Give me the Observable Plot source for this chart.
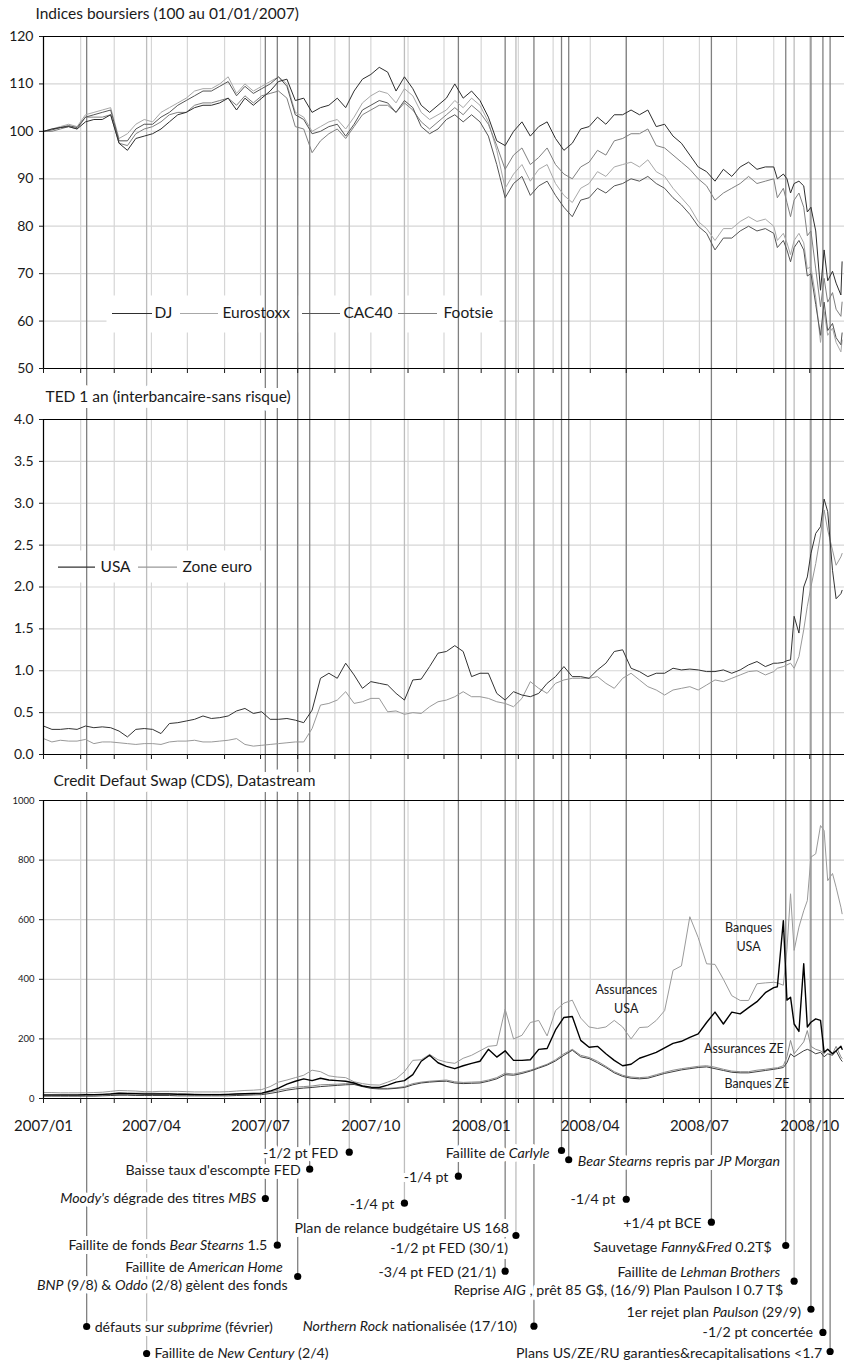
<!DOCTYPE html>
<html><head><meta charset="utf-8">
<script src="https://cdn.jsdelivr.net/npm/d3@7"></script>
<script src="https://cdn.jsdelivr.net/npm/@observablehq/plot@0.6"></script>
<style>
body{margin:0;background:#fff;}
#chart{width:844px;position:relative;}
#chart svg{display:block;}
</style></head><body><div id="chart"></div>
<script>
// ---------- DATA ----------
// weekly observations from 2007-01-01 (88 weeks), then denser observations during the autumn 2008 crash
const lateDates = ["2008-09-04","2008-09-09","2008-09-12","2008-09-15","2008-09-18","2008-09-22","2008-09-26","2008-09-29","2008-10-02","2008-10-06","2008-10-10","2008-10-13","2008-10-16","2008-10-20","2008-10-23","2008-10-27","2008-10-28"];
const dates = [];
for (let i = 0; i < 88; i++) dates.push(new Date(Date.UTC(2007, 0, 1 + 7 * i)));
lateDates.forEach(s => dates.push(new Date(s)));

// Indices boursiers (100 au 01/01/2007)
const dj = [100,100.5,100.8,101,100.5,102,102.5,102.5,103.5,97.5,96,98.5,99,99.5,100.5,102,103.5,104,105,105.5,105.5,106,107,104.5,107,105.5,107,108.5,110.5,111,106.5,107,104,105,105.5,107,105,108.5,111,112,113.5,112.5,108.5,111.5,109,105.5,104,105.5,107,110,107,108.5,106.5,103,98,97,100,102,99,101,102,98.5,96,97.5,100.5,101,103,101.5,103.5,103.5,104.5,103.5,104.5,101,101.5,99,97.5,95,92.5,91.5,89.5,92,90.5,92.5,93.5,92,92.5,92.5,
  90,91,90,87,89,89.5,88.5,83,84,79,66.5,75,68.5,70.5,68,65.5,72.5];
const eurostoxx = [100,100.5,101,101.5,101,103.5,104,104.5,105,98.5,99.5,101.5,102.5,102,104,105,106,107,108.5,109,109,110,111.5,108,110,108.5,109.5,110.5,111.5,110,104,103,100,101,102,102.5,100.5,103,106,107.5,108.5,108,106,109,107.5,104,102.5,103.5,104.5,106.5,105,107,105.5,102,96,88,91,93,89.5,92,93,89,86.5,85,88,89,91.5,90.5,92.5,93,93.5,92.5,94,91.5,90.5,88,86,84,81,79.5,77,79.5,79.5,81,82,81,81.5,80,
  77,78.5,76.5,74,77,78.5,76.5,71,71.5,65,55.5,62,57,58.5,55.5,53.5,56];
const cac40 = [100,100.3,100.8,101.2,100.8,103,103.5,104,104.5,98,98,100.5,101.5,101.5,103,104,105.5,106.5,107.5,108.5,108.5,109.5,110.5,107.5,109.5,108,109,110,111.5,109.5,103.5,102.5,99.5,100,101,101.5,99,101.5,104.5,105.5,106.5,106,104,106.5,105,101,99.5,100.5,102.5,103.5,102,103.5,102,99,93,86,89,90.5,86.5,88.5,89.5,86.5,84,82,85.5,86,88,87,88.5,89,90,89.5,90.5,89,88,86,84.5,82.5,80,78.5,75,77.5,77.5,79,80,79,79.5,78.5,
  75.5,77,75,72.5,75.5,77,75,69.5,70,63.5,57,64,58,59.5,56.5,55,57.5];
const footsie = [100,100,100.5,101,100.5,103,103,103,103.5,97.5,97,99.5,100.5,101,102,103.5,104,104,105.5,106,106,106.5,107,105.5,107.5,106,107.5,108,108.5,107,101,100.5,95.5,98,99.5,100.5,98.5,101,103.5,104.5,105.5,105.5,104,106,104.5,102,100.5,102,103.5,105,103.5,105.5,104,101.5,97,92,95,96.5,93,94.5,96.5,93,91,90,92.5,93.5,96,95,98,98.5,99.5,99.5,100.5,97,96.5,95,93.5,92,90,88.5,85.5,87,88,89,90.5,89,89.5,90,
  86,88,85,82,85.5,87,84,78,79,71,63,69,64,66,62.5,61,64];

// TED 1 an (interbancaire - sans risque), points
const tedUSA = [0.34,0.30,0.30,0.31,0.30,0.34,0.32,0.33,0.32,0.28,0.21,0.30,0.31,0.30,0.25,0.37,0.38,0.40,0.42,0.46,0.43,0.44,0.46,0.52,0.55,0.49,0.51,0.42,0.42,0.43,0.41,0.38,0.53,0.91,0.97,0.91,1.09,0.95,0.79,0.87,0.85,0.83,0.73,0.65,0.89,0.90,1.05,1.21,1.23,1.30,1.23,0.93,0.97,0.97,0.73,0.65,0.75,0.71,0.69,0.73,0.85,0.93,1.05,0.93,0.93,0.91,1.01,1.09,1.23,1.25,1.03,0.99,0.93,0.97,0.97,1.03,1.01,1.02,1.01,0.99,0.99,1.01,0.97,1.01,1.07,1.11,1.05,1.09,
  1.09,1.10,1.12,1.13,1.65,1.45,2.00,2.12,2.40,2.64,2.72,3.05,2.90,2.20,1.86,1.92,1.96];
const tedZE = [0.19,0.15,0.17,0.16,0.16,0.18,0.13,0.15,0.15,0.14,0.13,0.12,0.13,0.13,0.12,0.15,0.16,0.16,0.17,0.15,0.15,0.16,0.17,0.19,0.12,0.10,0.11,0.12,0.13,0.14,0.15,0.15,0.31,0.59,0.61,0.65,0.75,0.61,0.63,0.67,0.67,0.51,0.52,0.48,0.50,0.49,0.57,0.63,0.65,0.69,0.75,0.69,0.69,0.67,0.63,0.61,0.57,0.67,0.87,0.79,0.73,0.85,0.89,0.91,0.91,0.91,0.93,0.85,0.79,0.91,0.97,0.89,0.81,0.77,0.71,0.77,0.79,0.81,0.77,0.83,0.89,0.87,0.91,0.95,0.99,1.00,0.95,0.99,
  1.03,1.05,1.07,1.09,1.03,1.17,1.49,1.77,2.00,2.28,2.62,2.92,2.68,2.44,2.26,2.36,2.40];

// Credit Default Swap (CDS), points de base
const banquesUSA = [12,12,12,12,12,13,13,14,15,17,16,16,15,15,15,15,14,14,13,13,13,13,14,15,16,17,18,25,35,48,58,66,60,68,62,60,58,52,42,38,37,45,55,60,80,125,145,120,108,100,110,118,125,165,139,160,128,128,130,165,168,230,272,275,195,172,175,150,128,110,115,135,145,155,170,185,192,205,217,255,290,250,290,284,305,325,355,372,
  375,597,330,340,250,225,452,240,256,267,262,155,165,150,160,175,165];
const assurancesUSA = [20,20,19,19,19,19,20,21,24,27,26,25,23,23,24,24,24,23,22,22,22,22,23,25,27,28,30,40,55,62,70,78,95,90,76,72,70,56,50,46,45,55,66,90,128,130,148,130,122,118,135,145,160,175,178,300,200,212,255,262,210,295,320,330,270,240,235,240,262,240,200,238,240,262,295,430,445,610,540,452,450,400,345,329,329,385,388,390,
  388,380,500,687,497,575,630,664,810,821,916,899,731,755,709,642,620];
const assurancesZE = [10,10,10,10,10,10,11,12,16,20,19,18,18,18,17,17,17,16,15,14,14,14,14,15,16,16,17,22,28,33,38,40,42,46,47,48,50,50,42,36,34,34,36,40,50,55,58,60,62,56,54,55,56,62,70,85,82,88,95,105,115,130,150,165,145,138,125,108,90,78,72,70,72,80,88,95,100,104,108,110,105,98,92,90,90,95,98,102,
  103,110,140,195,150,170,190,228,175,165,160,150,165,150,175,140,135];
const banquesZE = [8,8,8,8,8,8,8,9,10,11,11,10,10,10,10,10,9,9,9,9,9,9,9,10,11,12,13,17,22,28,32,35,37,40,42,44,46,47,40,34,32,32,34,37,46,52,55,57,58,52,50,51,52,58,66,80,78,84,92,102,112,126,145,162,140,134,120,104,86,74,68,66,68,76,84,90,96,100,104,106,100,94,88,86,86,90,94,98,
  100,104,120,150,140,150,160,165,160,150,155,140,150,145,160,130,125];

const cdsLabels = [
  {date: "2008-08-11", value: 546, text: "Banques\nUSA"},
  {date: "2008-05-01", value: 340, text: "Assurances\nUSA"},
  {date: "2008-08-07", value: 172, text: "Assurances ZE"},
  {date: "2008-08-18", value: 55, text: "Banques ZE"}
];

// Events (vertical lines + annotations)
const events = [
  {date: "2007-02-06", lines: ["défauts sur *subprime* (février)"]},
  {date: "2007-03-28", lines: ["Faillite de *New Century* (2/4)"]},
  {date: "2007-07-05", lines: ["*Moody's* dégrade des titres *MBS*"]},
  {date: "2007-07-15", lines: ["Faillite de fonds *Bear Stearns* 1.5"]},
  {date: "2007-08-01", lines: ["Faillite de *American Home*", "*BNP* (9/8) & *Oddo* (2/8) gèlent des fonds"]},
  {date: "2007-08-11", lines: ["Baisse taux d'escompte FED"]},
  {date: "2007-09-13", lines: ["-1/2 pt FED"]},
  {date: "2007-10-29", lines: ["-1/4 pt"]},
  {date: "2007-12-13", lines: ["-1/4 pt"]},
  {date: "2008-01-21", lines: ["-3/4 pt FED (21/1)"]},
  {date: "2008-01-30", lines: ["Plan de relance budgétaire US 168", "-1/2 pt FED (30/1)"]},
  {date: "2008-02-14", lines: ["*Northern Rock* nationalisée (17/10)"]},
  {date: "2008-03-08", lines: ["Faillite de *Carlyle*"]},
  {date: "2008-03-14", lines: ["*Bear Stearns* repris par *JP Morgan*"]},
  {date: "2008-05-01", lines: ["-1/4 pt"]},
  {date: "2008-07-11", lines: ["+1/4 pt BCE"]},
  {date: "2008-09-11", lines: ["Sauvetage *Fanny&Fred* 0.2T$"]},
  {date: "2008-09-18", lines: ["Faillite de *Lehman Brothers*", "Reprise *AIG* , prêt 85 G$, (16/9) Plan Paulson I 0.7 T$"]},
  {date: "2008-10-02", lines: ["1er rejet plan *Paulson* (29/9)"]},
  {date: "2008-10-12", lines: ["-1/2 pt concertée"]},
  {date: "2008-10-18", lines: ["Plans US/ZE/RU garanties&recapitalisations <1.7"]}
];

const legend1 = ["DJ", "Eurostoxx", "CAC40", "Footsie"];
const legend2 = ["USA", "Zone euro"];

// ---------- LAYOUT / STYLE ----------
const eventLayout = [
  {dot: 20.91, tone: "dark",  text: [{row: 21.0, dx: 8}]},
  {dot: 24.12, tone: "light", text: [{row: 24.12, dx: 8}]},
  {dot: 5.70,  tone: "dark",  text: [{row: 5.70, dx: -9}]},
  {dot: 11.25, tone: "dark",  text: [{row: 11.25, dx: -10}]},
  {dot: 14.97, tone: "dark",  text: [{row: 13.94, dx: -15}, {row: 16.04, dx: -10}]},
  {dot: 2.22,  tone: "dark",  text: [{row: 2.38, dx: -9}]},
  {dot: 0.2,   tone: "light", text: [{row: 0.32, dx: -11}]},
  {dot: 6.26,  tone: "light", text: [{row: 6.42, dx: -10}]},
  {dot: 3.05,  tone: "dark",  text: [{row: 3.24, dx: -10}]},
  {dot: 14.34, tone: "dark",  text: [{row: 14.53, dx: -9}]},
  {dot: 10.1,  tone: "light", text: [{row: 9.3, dx: -7}, {row: 11.68, dx: -8}]},
  {dot: 20.87, tone: "dark",  text: [{row: 20.91, dx: -17}]},
  {dot: 0,     tone: "dark",  text: [{row: 0.32, dx: -12}]},
  {dot: 1.1,   tone: "dark",  text: [{row: 1.31, dx: 9}]},
  {dot: 5.79,  tone: "dark",  text: [{row: 5.86, dx: -11}]},
  {dot: 8.52,  tone: "dark",  text: [{row: 8.71, dx: -10}]},
  {dot: 11.29, tone: "dark",  text: [{row: 11.56, dx: -14}]},
  {dot: 15.53, tone: "light", text: [{row: 14.46, dx: -14}, {row: 16.63, dx: -11}]},
  {dot: 18.86, tone: "dark",  text: [{row: 19.21, dx: -10}]},
  {dot: 21.62, tone: "dark",  text: [{row: 21.66, dx: -10}]},
  {dot: 23.88, tone: "dark",  text: [{row: 24.08, dx: -8}]}
];
// legend placement relative to the plot frame (px): sample line x1,x2 and text x
const legend1Layout = {dy: 277, items: [[69, 109, 111], [137, 175, 179], [259, 297, 300], [355, 394, 400]]};
const legend2Layout = {dy: 147.7, items: [[15, 52, 57], [95, 134, 139]]};
const colors1 = ["#2e2e2e", "#a8a8a8", "#555555", "#808080"];
const colors2 = ["#333333", "#999999"];

const W = 844, ML = 43;
const FONT = "Lato, 'Open Sans', sans-serif";
const INK = "#1a1a1a";
const GRID = "#d6d6d6";
const EV = {dark: "#808080", light: "#bdbdbd"};
const xDomain = [new Date("2007-01-01"), new Date("2008-10-30")];
const monthTicks = d3.utcMonth.range(xDomain[0], xDomain[1]);
const quarterTicks = d3.utcMonth.every(3).range(xDomain[0], xDomain[1]);
const ev = events.map((e, i) => ({...e, ...eventLayout[i], date: new Date(e.date)}));
const series = (arr) => dates.map((d, i) => ({date: d, value: arr[i]}));
const baseStyle = {fontFamily: FONT, fontSize: "14px", color: INK, background: "#fff", overflow: "visible"};
const frameW = W - ML;

function eventRules(opts) {
  return ["light", "dark"].map(tone =>
    Plot.ruleX(ev.filter(e => e.tone === tone), {x: "date", stroke: EV[tone], strokeWidth: 1.3, ...opts}));
}
function title(text, dx, dy) {
  return Plot.text([text], {frameAnchor: "top-left", dx, dy, textAnchor: "start", lineAnchor: "middle",
    fontSize: 15.5, fill: INK, stroke: "white", strokeWidth: 12, paintOrder: "stroke"});
}
function legendMarks(labels, colors, layout, yTop) {
  return labels.flatMap((label, i) => {
    const [x1, x2, tx] = layout.items[i];
    return [
      Plot.ruleY([yTop], {dy: layout.dy, insetLeft: x1, insetRight: frameW - x2, stroke: colors[i], strokeWidth: 1.2}),
      Plot.text([label], {frameAnchor: "top-left", dx: tx, dy: layout.dy, textAnchor: "start", lineAnchor: "middle", fontSize: 15.5, fill: INK})
    ];
  });
}

// ---------- PANEL 1 ----------
const p1 = Plot.plot({
  width: W, height: 377, marginLeft: ML, marginRight: 0, marginTop: 36, marginBottom: 9,
  x: {type: "utc", domain: xDomain, label: null},
  y: {domain: [50, 120], label: null},
  style: baseStyle,
  marks: [
    Plot.gridY([60, 70, 80, 90, 100, 110], {stroke: GRID, strokeOpacity: 1, strokeWidth: 1.2}),
    Plot.gridX(monthTicks, {stroke: GRID, strokeOpacity: 1, strokeWidth: 1.2}),
    Plot.frame({fill: "white", stroke: "none", insetLeft: 63, insetRight: 345, insetTop: 259, insetBottom: 36}),
    ...eventRules({insetBottom: -9}),
    Plot.line(series(eurostoxx), {x: "date", y: "value", stroke: colors1[1], strokeWidth: 1}),
    Plot.line(series(footsie), {x: "date", y: "value", stroke: colors1[3], strokeWidth: 1}),
    Plot.line(series(cac40), {x: "date", y: "value", stroke: colors1[2], strokeWidth: 1}),
    Plot.line(series(dj), {x: "date", y: "value", stroke: colors1[0], strokeWidth: 1}),
    Plot.ruleY([50, 120], {stroke: "#000", strokeWidth: 1.2}),
    Plot.ruleX([xDomain[0]], {stroke: "#000", strokeWidth: 1.2}),
    Plot.axisY([50, 60, 70, 80, 90, 100, 110, 120], {tickSize: 4, tickPadding: 6, fontSize: 14, label: null}),
    Plot.axisX(monthTicks, {tickSize: 5, tickFormat: () => "", label: null}),
    ...legendMarks(legend1, colors1, legend1Layout, 120),
    title("Indices boursiers (100 au 01/01/2007)", -8, -22)
  ]
});

// ---------- PANEL 2 ----------
const p2 = Plot.plot({
  width: W, height: 385, marginLeft: ML, marginRight: 0, marginTop: 42, marginBottom: 8,
  x: {type: "utc", domain: xDomain, label: null},
  y: {domain: [0, 4], label: null},
  style: baseStyle,
  marks: [
    Plot.gridY([0.5, 1, 1.5, 2, 2.5, 3, 3.5], {stroke: GRID, strokeOpacity: 1, strokeWidth: 1.2}),
    Plot.gridX(monthTicks, {stroke: GRID, strokeOpacity: 1, strokeWidth: 1.2}),
    Plot.frame({fill: "white", stroke: "none", insetLeft: 5, insetRight: 581, insetTop: 131, insetBottom: 172}),
    ...eventRules({insetTop: -42, insetBottom: -8}),
    Plot.line(series(tedZE), {x: "date", y: "value", stroke: colors2[1], strokeWidth: 1}),
    Plot.line(series(tedUSA), {x: "date", y: "value", stroke: colors2[0], strokeWidth: 1}),
    Plot.ruleY([0, 4], {stroke: "#000", strokeWidth: 1.2}),
    Plot.ruleX([xDomain[0]], {stroke: "#000", strokeWidth: 1.2}),
    Plot.axisY([0, 0.5, 1, 1.5, 2, 2.5, 3, 3.5, 4], {tickSize: 4, tickPadding: 6, fontSize: 14, tickFormat: d3.format(".1f"), label: null}),
    Plot.axisX(monthTicks, {tickSize: 5, tickFormat: () => "", label: null}),
    ...legendMarks(legend2, colors2, legend2Layout, 4),
    title("TED 1 an (interbancaire-sans risque)", 2, -22.6)
  ]
});

// ---------- PANEL 3 ----------
const p3 = Plot.plot({
  width: W, height: 378, marginLeft: ML, marginRight: 0, marginTop: 38, marginBottom: 42,
  x: {type: "utc", domain: xDomain, label: null},
  y: {domain: [0, 1000], label: null},
  style: baseStyle,
  marks: [
    Plot.gridY([200, 400, 600, 800], {stroke: GRID, strokeOpacity: 1, strokeWidth: 1.2}),
    Plot.gridX(monthTicks, {stroke: GRID, strokeOpacity: 1, strokeWidth: 1.2}),
    ...eventRules({insetTop: -38, insetBottom: -42}),
    Plot.line(series(assurancesUSA), {x: "date", y: "value", stroke: "#9a9a9a", strokeWidth: 1}),
    Plot.line(series(assurancesZE), {x: "date", y: "value", stroke: "#8c8c8c", strokeWidth: 1}),
    Plot.line(series(banquesZE), {x: "date", y: "value", stroke: "#404040", strokeWidth: 1}),
    Plot.line(series(banquesUSA), {x: "date", y: "value", stroke: "#000", strokeWidth: 1.4}),
    Plot.text(cdsLabels, {x: d => new Date(d.date), y: "value", text: "text", fontSize: 12.5, lineHeight: 1.5, fill: INK, lineAnchor: "middle"}),
    Plot.ruleY([0, 1000], {stroke: "#000", strokeWidth: 1.2}),
    Plot.ruleX([xDomain[0]], {stroke: "#000", strokeWidth: 1.2}),
    Plot.axisY([0, 200, 400, 600, 800, 1000], {tickSize: 4, tickPadding: 5, fontSize: 9.5, tickFormat: d3.format("d"), label: null}),
    Plot.axisX(monthTicks, {tickSize: 5, tickFormat: () => "", label: null}),
    Plot.axisX(quarterTicks, {tickSize: 0, tickPadding: 22, fontSize: 15, tickFormat: d3.utcFormat("%Y/%m"), label: null}),
    title("Credit Defaut Swap (CDS), Datastream", 10, -19.3)
  ]
});

// ---------- ANNOTATIONS ----------
const textMarks = ev.flatMap(e => e.lines.map((line, j) => {
  const t = e.text[j];
  return Plot.text([{date: e.date, row: t.row, label: line}], {
    x: "date", y: "row", text: "label", dx: t.dx, textAnchor: t.dx > 0 ? "start" : "end",
    lineAnchor: "middle", fontSize: 14.2, fill: INK, stroke: "white", strokeWidth: 8, paintOrder: "stroke"
  });
}));
const p4 = Plot.plot({
  width: W, height: 224, marginLeft: ML, marginRight: 0, marginTop: 10, marginBottom: 12,
  x: {type: "utc", domain: xDomain, axis: null},
  y: {domain: [0, 24], reverse: true, axis: null},
  style: baseStyle,
  marks: [
    ...["light", "dark"].map(tone => Plot.ruleX(ev.filter(e => e.tone === tone),
      {x: "date", y1: () => -1.2, y2: "dot", stroke: EV[tone], strokeWidth: 1.3})),
    ...textMarks,
    Plot.dot(ev, {x: "date", y: "dot", r: 3.6, fill: "#000", stroke: "none"})
  ]
});

function italicize(svg) {
  svg.querySelectorAll("text").forEach(el => {
    const t = el.textContent;
    if (!t.includes("*")) return;
    el.textContent = "";
    el.style.whiteSpace = "pre";
    t.split("*").forEach((part, i) => {
      if (!part) return;
      const ts = document.createElementNS("http://www.w3.org/2000/svg", "tspan");
      if (i % 2) ts.setAttribute("font-style", "italic");
      ts.textContent = part;
      el.appendChild(ts);
    });
  });
}
italicize(p4);

const chart = document.getElementById("chart");
[p1, p2, p3, p4].forEach(s => chart.appendChild(s));
</script>
</body></html>
